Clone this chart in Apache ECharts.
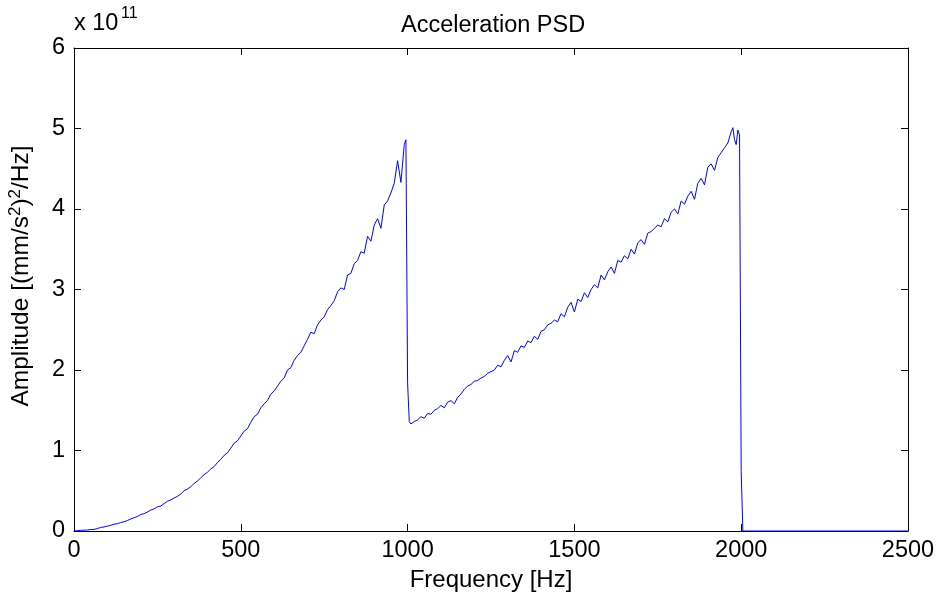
<!DOCTYPE html>
<html>
<head>
<meta charset="utf-8">
<script src="https://cdn.jsdelivr.net/npm/echarts@6/dist/echarts.min.js"></script>
<style>
html,body{margin:0;padding:0;background:#fff;}
#chart{width:939px;height:599px;}
</style>
</head>
<body>
<div id="chart"></div>
<script>
// Frequency (Hz) and acceleration PSD (in units of 1e11 (mm/s^2)^2/Hz)
var freqHz = [
  0,10,20,30,40,50,60,70,80,90,
  100,110,120,130,140,150,160,170,180,190,
  200,210,220,230,240,250,260,270,280,290,
  300,310,320,330,340,350,360,370,380,390,
  400,410,420,430,440,450,460,470,480,490,
  500,510,520,530,540,550,560,570,580,590,
  600,610,620,630,640,650,660,670,680,690,
  700,710,720,730,740,750,760,770,780,790,
  800,810,820,830,840,850,860,870,880,890,
  900,910,920,930,940,950,960,970,980,990,
  995,1000,1005,1010,1015,
  1020,1030,1040,1050,1060,1070,1080,1090,
  1100,1110,1120,1130,1140,1150,1160,1170,1180,1190,
  1200,1210,1220,1230,1240,1250,1260,1270,1280,1290,
  1300,1310,1320,1330,1340,1350,1360,1370,1380,1390,
  1400,1410,1420,1430,1440,1450,1460,1470,1480,1490,
  1500,1510,1520,1530,1540,1550,1560,1570,1580,1590,
  1600,1610,1620,1630,1640,1650,1660,1670,1680,1690,
  1700,1710,1720,1730,1740,1750,1760,1770,1780,1790,
  1800,1810,1820,1830,1840,1850,1860,1870,1880,1890,
  1900,1910,1920,1930,1940,1950,1960,1970,1975,1980,
  1985,1990,1995,1997,2000,2005,2010,2500
];
var psd = [
  0.000,0.005,0.008,0.010,0.012,0.018,0.020,0.030,0.045,0.050,
  0.060,0.070,0.085,0.090,0.105,0.115,0.130,0.150,0.165,0.180,
  0.205,0.215,0.235,0.260,0.275,0.300,0.310,0.340,0.370,0.385,
  0.410,0.430,0.460,0.500,0.520,0.550,0.590,0.620,0.660,0.700,
  0.730,0.770,0.800,0.850,0.890,0.940,0.970,1.030,1.090,1.120,
  1.180,1.240,1.270,1.350,1.420,1.450,1.530,1.580,1.620,1.700,
  1.740,1.800,1.860,1.900,2.000,2.030,2.120,2.180,2.220,2.300,
  2.380,2.470,2.450,2.560,2.620,2.660,2.750,2.800,2.860,2.970,
  3.020,3.000,3.180,3.200,3.320,3.360,3.470,3.450,3.660,3.600,
  3.800,3.880,3.760,4.050,4.100,4.200,4.320,4.600,4.330,4.800,
  4.860,1.840,1.360,1.330,1.350,
  1.360,1.380,1.420,1.400,1.460,1.450,1.500,1.520,
  1.560,1.530,1.600,1.620,1.580,1.660,1.700,1.760,1.800,1.820,
  1.860,1.870,1.900,1.920,1.960,1.980,2.000,2.060,2.040,2.120,
  2.180,2.100,2.240,2.220,2.300,2.280,2.360,2.340,2.420,2.380,
  2.480,2.500,2.560,2.580,2.620,2.600,2.700,2.660,2.780,2.840,
  2.720,2.880,2.850,2.960,2.900,3.000,3.060,3.020,3.180,3.120,
  3.220,3.280,3.200,3.360,3.340,3.420,3.380,3.500,3.440,3.580,
  3.620,3.560,3.700,3.720,3.760,3.800,3.780,3.880,3.840,3.960,
  4.000,3.940,4.100,4.060,4.160,4.220,4.120,4.320,4.380,4.300,
  4.520,4.560,4.480,4.640,4.700,4.760,4.820,4.960,5.010,4.860,
  4.800,4.980,4.920,4.930,0.740,0.000,0.000,0.000
];
var yScale = 1e11;
var xTicks = [0, 500, 1000, 1500, 2000, 2500];
var yTicks = [0, 1, 2, 3, 4, 5, 6];

var seriesData = freqHz.map(function (f, i) { return [f, psd[i] * yScale]; });

var FONT = 'Liberation Sans, Arial, Helvetica, sans-serif';
var FS = 23.5;
var chart = echarts.init(document.getElementById('chart'), null, {renderer: 'canvas'});

function axisCommon(showLabel) {
  return {
    axisLine: {show: true, onZero: false, lineStyle: {color: '#000', width: 1}},
    axisTick: {show: true, inside: true, length: 7, lineStyle: {color: '#000', width: 1}},
    splitLine: {show: false},
    axisLabel: {show: showLabel, color: '#000', fontFamily: FONT, fontSize: FS}
  };
}

var xBottom = Object.assign(axisCommon(true), {
  type: 'value', position: 'bottom', min: xTicks[0], max: xTicks[xTicks.length - 1], interval: 500,
  name: 'Frequency [Hz]', nameLocation: 'middle', nameGap: 37,
  nameTextStyle: {color: '#000', fontFamily: FONT, fontSize: 24}
});
xBottom.axisLabel.margin = 8;
xBottom.axisLabel.formatter = function (v) { return String(v); };
var xTop = Object.assign(axisCommon(false), {
  type: 'value', position: 'top', min: xTicks[0], max: xTicks[xTicks.length - 1], interval: 500
});
var yLeft = Object.assign(axisCommon(true), {
  type: 'value', position: 'left', min: yTicks[0] * yScale, max: yTicks[yTicks.length - 1] * yScale, interval: yScale
});
yLeft.axisLabel.formatter = function (v) { return String(Math.round(v / yScale)); };
yLeft.axisLabel.margin = 9;
var yRight = Object.assign(axisCommon(false), {
  type: 'value', position: 'right', min: yTicks[0] * yScale, max: yTicks[yTicks.length - 1] * yScale, interval: yScale
});

chart.setOption({
  animation: false,
  backgroundColor: '#fff',
  title: {
    text: 'Acceleration PSD', left: 396, top: 9,
    textStyle: {color: '#000', fontFamily: FONT, fontSize: FS, fontWeight: 'normal'}
  },
  grid: {left: 74, right: 31, top: 48, bottom: 68, containLabel: false},
  xAxis: [xBottom, xTop],
  yAxis: [yLeft, yRight],
  series: [{
    type: 'line', xAxisIndex: 0, yAxisIndex: 0, data: seriesData,
    showSymbol: false, symbol: 'none',
    lineStyle: {color: '#0000ff', width: 1}, itemStyle: {color: '#0000ff'}
  }],
  graphic: [
    {type: 'text', left: 74, top: 12, style: {text: 'x 10', fill: '#000', font: FS + 'px ' + FONT}},
    {type: 'text', left: 121, top: 6, style: {text: '11', fill: '#000', font: '16px ' + FONT}},
    {
      type: 'text', x: 20, y: 276, rotation: Math.PI / 2,
      style: {
        text: '{n|Amplitude [(mm/s}{s|2}{n|)}{s|2}{n|/Hz]}',
        align: 'center', verticalAlign: 'middle',
        rich: {
          n: {fontSize: 24.5, fontFamily: FONT, fill: '#000', verticalAlign: 'bottom', lineHeight: 27},
          s: {fontSize: 17, fontFamily: FONT, fill: '#000', verticalAlign: 'bottom', lineHeight: 17, padding: [0, 0, 10, 0]}
        }
      }
    }
  ]
});
</script>
</body>
</html>
